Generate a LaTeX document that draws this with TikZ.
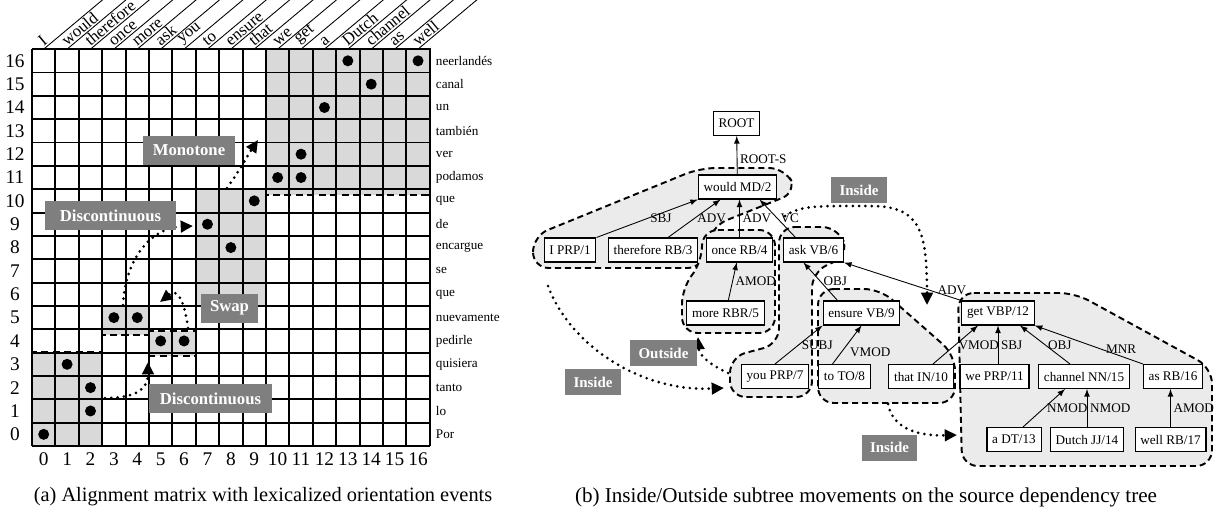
\documentclass[tikz,border=0pt]{standalone}
\usepackage{fontspec}
\setmainfont{Liberation Serif}
\usetikzlibrary{arrows, arrows.meta, calc, positioning}
\definecolor{cellgray}{RGB}{217,217,217}
\definecolor{blobgray}{RGB}{235,235,235}
\definecolor{taggray}{RGB}{127,127,127}
\tikzset{
  gridline/.style = {line width=1.1pt},
  dashbox/.style = {line width=1.4pt, dash pattern=on 4pt off 2.5pt},
  num/.style = {font=\fontsize{11}{12}\selectfont, inner sep=0pt},
  enw/.style = {font=\fontsize{9.5}{11}\selectfont, inner sep=0.8pt},
  esw/.style = {font=\fontsize{7.5}{9}\selectfont, inner sep=2pt},
  tag/.style = {fill=taggray, text=white, inner sep=0pt},
  gtag/.style = {tag, font=\fontsize{9.5}{11}\selectfont\bfseries, minimum height=0.58cm},
  ttag/.style = {tag, font=\fontsize{8.5}{10}\selectfont\bfseries, minimum height=0.52cm},
  dep/.style = {draw, fill=white, line width=0.6pt, inner sep=0pt, inner xsep=3pt,
    minimum height=0.48cm, font=\fontsize{7.5}{8}\selectfont},
  rel/.style = {font=\fontsize{7.5}{8}\selectfont, inner sep=1.5pt},
  dedge/.style = {-latex, line width=0.5pt},
  subtree/.style = {fill=blobgray, draw, line width=1.1pt, dash pattern=on 3.5pt off 2.2pt,
    rounded corners=9pt},
  move/.style = {line width=1.7pt, dash pattern=on 0pt off 3.6pt, line cap=round,
    -{Triangle[length=7pt, width=6.5pt]}},
  caption/.style = {inner sep=0pt}
}

\begin{document}
\begin{tikzpicture}[x=0.02cm, y=-0.02cm]
\useasboundingbox (0,0) rectangle (1219,514);

% (a) alignment matrix
\begin{scope}[shift={(32,446)}, x=0.468cm, y=0.467cm]
  \fill[cellgray] (0,0) rectangle (3,4);
  \fill[cellgray] (3,4.75) rectangle (5,6);
  \fill[cellgray] (5,3.85) rectangle (7,4.92);
  \fill[cellgray] (7,6) rectangle (10,11);
  \fill[cellgray] (10,10.75) rectangle (17,17);
  \foreach \i in {0,...,17} {
    \draw[gridline] (\i,0) -- (\i,17);
    \draw[gridline] (0,\i) -- (17,\i);
  }
  \draw[dashbox] (0,0) rectangle (3,4);
  \draw[dashbox] (3,4.75) rectangle (5,6);
  \draw[dashbox] (5,3.85) rectangle (7,4.92);
  \draw[dashbox] (7,6) rectangle (10,11);
  \draw[dashbox] (10,10.75) rectangle (17,17);
  \foreach \col/\row in {0/0, 2/1, 2/2, 1/3, 5/4, 6/4, 3/5, 4/5, 8/8, 7/9, 9/10,
      10/11, 11/11, 11/12, 12/14, 14/15, 13/16, 16/16}
    \fill (\col+0.5,\row+0.5) circle (0.11cm);
  \foreach \w [count=\row from 0] in {Por, lo, tanto, quisiera, pedirle, nuevamente, que,
      se, encargue, de, que, podamos, ver, también, un, canal, neerlandés} {
    \node[esw, anchor=west] (es\row) at (17.1,\row+0.5) {\w};
    \node[num] (rn\row) at (-0.73,\row+0.5) {\row};
  }
  \foreach \w [count=\col from 0] in {I, would, therefore, once, more, ask, you, to,
      ensure, that, we, get, a, Dutch, channel, as, well} {
    \node[num] (cn\col) at (\col+0.5,-0.55) {\col};
    \draw[line width=0.5pt] (\col+0.5,17) -- ++(40:3.3);
    \node[enw, rotate=40, anchor=south west] (en\col) at (\col+0.5,17) {\w};
  }
\end{scope}

\draw[move] (105,398) .. controls (135,398) and (148,390) .. (148,362);
\draw[move] (123,305) .. controls (125,260) and (150,228) .. (193,226);
\draw[move] (188,328) .. controls (184,300) and (178,288) .. (160,302);
\draw[move] (227,188) .. controls (240,170) and (248,155) .. (258,140);

\node[gtag, minimum width=1.84cm] (mono) at (189,150) {Monotone};
\node[gtag, minimum width=2.62cm] (disc1) at (110.5,215.5) {Discontinuous};
\node[gtag, minimum width=1.14cm] (swap) at (229.5,308) {Swap};
\node[gtag, minimum width=2.46cm] (disc2) at (210.5,398.5) {Discontinuous};

\node[caption, font=\fontsize{11.6}{14}\selectfont] (capa) at (263,497)
  {(a) Alignment matrix with lexicalized orientation events};

% (b) dependency tree
\draw[subtree] (533,268) -- (533,236) -- (700,168) -- (785,168) -- (797,192)
  -- (712,226) -- (703,268) -- cycle;
\draw[subtree] (702,230) -- (775,230) -- (775,333) -- (682,333) -- (682,288)
  -- (702,262) -- cycle;
\draw[subtree] (779,227) -- (838,227) -- (849,255) -- (812,272) -- (812,397)
  -- (730,397) -- (730,357) -- (779,344) -- cycle;
\draw[subtree] (818,289) -- (880,289) -- (955,355) -- (955,403) -- (818,403) -- cycle;
\draw[subtree] (958,293) -- (1075,293) -- (1212,368) -- (1212,466) -- (962,466) -- cycle;

\node[dep] (root) at (736.5,123.5) {ROOT};
\node[dep] (would) at (737.5,187) {would MD/2};
\node[dep] (i1) at (570,250) {I PRP/1};
\node[dep] (thr) at (653,250) {therefore RB/3};
\node[dep] (once) at (739.5,250) {once RB/4};
\node[dep] (ask) at (813.5,250) {ask VB/6};
\node[dep] (more) at (725.5,313) {more RBR/5};
\node[dep] (ens) at (861.5,313) {ensure VB/9};
\node[dep] (get) at (998,313) {get VBP/12};
\node[dep] (you) at (775,376.5) {you PRP/7};
\node[dep] (to) at (844.5,376.5) {to TO/8};
\node[dep] (that) at (921,376.5) {that IN/10};
\node[dep] (we) at (994.5,376.5) {we PRP/11};
\node[dep] (ch) at (1084,376.5) {channel NN/15};
\node[dep] (as) at (1173,376.5) {as RB/16};
\node[dep] (a) at (1014,439.5) {a DT/13};
\node[dep] (dutch) at (1087,439.5) {Dutch JJ/14};
\node[dep] (well) at (1170.5,439.5) {well RB/17};

\draw[dedge] (would) -- (root) node[rel, pos=0.4, right] {ROOT-S};
\draw[dedge] (i1.north east) -- (would.south west) node[rel, midway, right] {SBJ};
\draw[dedge] ($(thr.north)+(15,0)$) -- ($(would.south)+(-17,0)$) node[rel, midway, right] {ADV};
\draw[dedge] (once.north) -- (once.north |- would.south) node[rel, midway, right] {ADV};
\draw[dedge] ($(ask.north)+(-18,0)$) -- ($(would.south)+(22,0)$) node[rel, midway, right] {VC};
\draw[dedge] (more) -- (once) node[rel, midway, right] {AMOD};
\draw[dedge] ($(ens.north)+(-24,0)$) -- ($(ask.south)+(-10,0)$) node[rel, midway, right] {OBJ};
\draw[dedge] (get.north west) -- (ask.south east) node[rel, pos=0.08, above] {ADV};
\draw[dedge] (you.north) -- (ens.south west) node[rel, midway, right] {SUBJ};
\draw[dedge] ($(to.north)+(-12,0)$) -- (ens.south) node[rel, midway, below right] {VMOD};
\draw[dedge] ($(that.north)+(12,0)$) -- ($(get.south)+(-20,0)$) node[rel, midway, right] {VMOD};
\draw[dedge] (get.south |- we.north) -- (get.south) node[rel, midway, right] {SBJ};
\draw[dedge] ($(ch.north)+(-14,0)$) -- ($(get.south)+(22,0)$) node[rel, midway, right] {OBJ};
\draw[dedge] (as.north west) -- (get.south east) node[rel, pos=0.2, above] {MNR};
\draw[dedge] ($(a.north)+(9,0)$) -- ($(ch.south)+(-19,0)$) node[rel, midway, right] {NMOD};
\draw[dedge] (dutch.north) -- (dutch.north |- ch.south) node[rel, midway, right] {NMOD};
\draw[dedge] (well.north) -- (well.north |- as.south) node[rel, midway, right] {AMOD};

\coordinate (mvA) at (548,286);
\coordinate (mvB) at (724,388);
\coordinate (mvC) at (728,373);
\coordinate (mvD) at (698,337);
\coordinate (mvE) at (785,216);
\coordinate (mvF) at (927,305);
\coordinate (mvG) at (888,404);
\coordinate (mvH) at (957,435);
\draw[move] (mvA) .. controls (570,345) and (640,392) .. (mvB);
\draw[move] (mvC) .. controls (710,365) and (699,355) .. (mvD);
\draw[move] (mvE) .. controls (800,205) and (820,206) .. (870,206)
  .. controls (920,206) and (927,230) .. (mvF);
\draw[move] (mvG) .. controls (893,430) and (920,436) .. (mvH);

\node[ttag, minimum width=1.12cm] (in1) at (593,382) {Inside};
\node[ttag, minimum width=1.34cm] (out1) at (663.5,353) {Outside};
\node[ttag, minimum width=1.12cm] (in2) at (859,190) {Inside};
\node[ttag, minimum width=1.1cm] (in3) at (889.5,447.5) {Inside};

\node[caption, font=\fontsize{12}{14}\selectfont] (capb) at (866,497)
  {(b) Inside/Outside subtree movements on the source dependency tree};
\end{tikzpicture}
\end{document}
